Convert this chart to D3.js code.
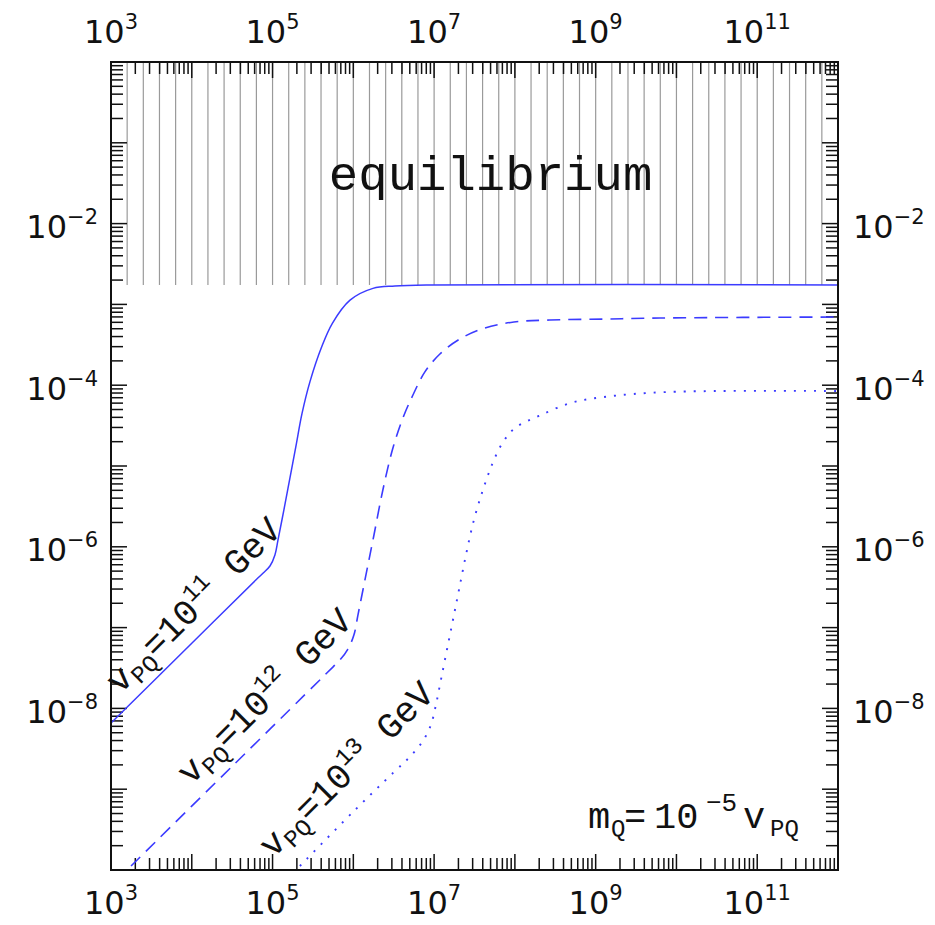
<!DOCTYPE html>
<html>
<head>
<meta charset="utf-8">
<script src="https://cdn.jsdelivr.net/npm/d3@7"></script>
<style>
  html, body { margin: 0; padding: 0; background: #fff; }
  svg { display: block; }
</style>
</head>
<body>
<svg id="chart" width="935" height="925"></svg>
<script>
// ---------------- data ----------------
// solid: v_PQ = 1e11 GeV
const solidX = [1e3, 1e4, 6.3e4, 7.6e4, 9.29e4, 1.07e5, 1.167e5, 1.38e5, 1.64e5, 1.95e5, 2.31e5, 2.9e5, 4.06e5, 5.5e5, 9.1e5, 1.75e6, 3.27e6, 8.87e6, 1e12];
const solidY = [6.59e-9, 6.4e-8, 3.94e-7, 4.71e-7, 5.78e-7, 7.93e-7, 1.21e-6, 2.85e-6, 7.1e-6, 1.77e-5, 4.41e-5, 1.1e-4, 2.99e-4, 5.84e-4, 1.13e-3, 1.58e-3, 1.69e-3, 1.74e-3, 1.74e-3];
// dashed: v_PQ = 1e12 GeV
const dashedX = [1.77e3, 3.16e4, 5.62e5, 6.82e5, 8.57e5, 1.016e6, 1.14e6, 1.315e6, 1.517e6, 1.8e6, 2.32e6, 3.09e6, 4.11e6, 5.47e6, 7.69e6, 1.18e7, 2.08e7, 4.26e7, 9.72e7, 2.71e8, 1.3e9, 6.24e9, 1e12];
const dashedY = [1.12e-10, 1.92e-9, 3.27e-8, 3.97e-8, 5.43e-8, 8.09e-8, 1.43e-7, 2.92e-7, 5.96e-7, 1.4e-6, 5.05e-6, 1.67e-5, 3.93e-5, 7.57e-5, 1.46e-4, 2.43e-4, 3.73e-4, 5.11e-4, 6.05e-4, 6.41e-4, 6.59e-4, 6.79e-4, 6.98e-4];
// dotted: v_PQ = 1e13 GeV
const dottedX = [2.18e5, 1e6, 3.16e6, 5.0e6, 7.26e6, 9.12e6, 1.052e7, 1.213e7, 1.439e7, 1.71e7, 2.03e7, 2.48e7, 3.11e7, 4.02e7, 5.19e7, 6.9e7, 1e8, 1.98e8, 4.93e8, 1.26e9, 7.83e9, 1e12];
const dottedY = [1.12e-10, 5.28e-10, 1.62e-9, 2.51e-9, 3.95e-9, 6.24e-9, 1.1e-8, 2.24e-8, 5.28e-8, 1.24e-7, 2.92e-7, 7.93e-7, 2.15e-6, 5.05e-6, 1.03e-5, 1.87e-5, 2.95e-5, 4.16e-5, 6.03e-5, 7.14e-5, 8.24e-5, 8.47e-5];

const equilibriumLevel = 1.74e-3;   // lower edge of hatched "equilibrium" region
const hatchStepDecades = 0.2;       // spacing of hatch lines (in decades of x)

const xDomain = [1e3, 1e12];
const yDomain = [1e-10, 1];
const xLabelTicks = [1e3, 1e5, 1e7, 1e9, 1e11];
const xLabelExps  = ["3", "5", "7", "9", "11"];
const yLabelTicks = [1e-2, 1e-4, 1e-6, 1e-8];
const yLabelExps  = ["\u22122", "\u22124", "\u22126", "\u22128"];

const curveLabels = [
  { exp: "11", style: "solid" },
  { exp: "12", style: "dashed" },
  { exp: "13", style: "dotted" }
];

// ---------------- layout ----------------
const L = 111, R = 838, T = 62, B = 870;
const svg = d3.select("#chart");
const x = d3.scaleLog().domain(xDomain).range([L, R]);
const y = d3.scaleLog().domain(yDomain).range([B, T]);

const blue = "#3b3bff";
const tickFont = "'DejaVu Sans', Verdana, sans-serif";
const monoFont = "'Liberation Mono', 'Courier New', monospace";

svg.append("defs").append("clipPath").attr("id", "plotclip")
  .append("rect").attr("x", L).attr("y", T).attr("width", R - L).attr("height", B - T);

// hatch lines
const hatchVals = [];
const lx0 = Math.log10(xDomain[0]), lx1 = Math.log10(xDomain[1]);
for (let k = 1; lx0 + k * hatchStepDecades < lx1 - 1e-9; k++) hatchVals.push(Math.pow(10, lx0 + k * hatchStepDecades));
svg.append("g").selectAll("line").data(hatchVals).join("line")
  .attr("x1", d => x(d)).attr("x2", d => x(d))
  .attr("y1", y(yDomain[1])).attr("y2", y(equilibriumLevel))
  .attr("stroke", "#9a9a9a").attr("stroke-width", 1.2);

// ticks generation (1..9 per decade)
function logTicks(domain) {
  const out = [];
  const a = Math.round(Math.log10(domain[0])), b = Math.round(Math.log10(domain[1]));
  for (let e = a; e <= b; e++) {
    for (let m = 1; m <= 9; m++) {
      const v = m * Math.pow(10, e);
      if (v >= domain[0] * 0.999 && v <= domain[1] * 1.001) out.push({ v, major: m === 1 });
    }
  }
  return out;
}
const xt = logTicks(xDomain), yt = logTicks(yDomain);
const MAJ = 16, MIN = 12;
const tg = svg.append("g").attr("stroke", "#111").attr("stroke-width", 1.5);
tg.selectAll(".tb").data(xt).join("line").attr("class", "tb")
  .attr("x1", d => x(d.v)).attr("x2", d => x(d.v))
  .attr("y1", B).attr("y2", d => B - (d.major ? MAJ : MIN));
tg.selectAll(".tt").data(xt).join("line").attr("class", "tt")
  .attr("x1", d => x(d.v)).attr("x2", d => x(d.v))
  .attr("y1", T).attr("y2", d => T + (d.major ? MAJ : MIN));
tg.selectAll(".tl").data(yt).join("line").attr("class", "tl")
  .attr("y1", d => y(d.v)).attr("y2", d => y(d.v))
  .attr("x1", L).attr("x2", d => L + (d.major ? MAJ : MIN));
tg.selectAll(".tr").data(yt).join("line").attr("class", "tr")
  .attr("y1", d => y(d.v)).attr("y2", d => y(d.v))
  .attr("x1", R).attr("x2", d => R - (d.major ? MAJ : MIN));

// curves
const line = d3.line().x(d => x(d[0])).y(d => y(d[1])).curve(d3.curveCatmullRom.alpha(0.5));
const cg = svg.append("g").attr("clip-path", "url(#plotclip)").attr("fill", "none").attr("stroke", blue);
cg.append("path").datum(d3.zip(solidX, solidY)).attr("d", line).attr("stroke-width", 1.5);
cg.append("path").datum(d3.zip(dashedX, dashedY)).attr("d", line).attr("stroke-width", 1.6)
  .attr("stroke-dasharray", "13,8");
cg.append("path").datum(d3.zip(dottedX, dottedY)).attr("d", line).attr("stroke-width", 1.9)
  .attr("stroke-dasharray", "2,8");

// frame
svg.append("rect").attr("x", L).attr("y", T).attr("width", R - L).attr("height", B - T)
  .attr("fill", "none").attr("stroke", "#111").attr("stroke-width", 2);

// tick labels
function supLabel(sel, base, exp, supSize, rise) {
  sel.text(base);
  sel.append("tspan").attr("dy", -rise).attr("font-size", supSize).text(exp);
}
xLabelTicks.forEach((v, i) => {
  const tt = svg.append("text").attr("x", x(v)).attr("y", 43).attr("text-anchor", "middle")
    .attr("font-family", tickFont).attr("font-size", 32).attr("fill", "#111");
  supLabel(tt, "10", xLabelExps[i], 21, 14);
  const tb = svg.append("text").attr("x", x(v)).attr("y", 914).attr("text-anchor", "middle")
    .attr("font-family", tickFont).attr("font-size", 32).attr("fill", "#111");
  supLabel(tb, "10", xLabelExps[i], 21, 14);
});
yLabelTicks.forEach((v, i) => {
  const tl = svg.append("text").attr("x", 98).attr("y", y(v) + 14.5).attr("text-anchor", "end")
    .attr("font-family", tickFont).attr("font-size", 32).attr("fill", "#111");
  supLabel(tl, "10", yLabelExps[i], 21, 14);
  const tr = svg.append("text").attr("x", 853).attr("y", y(v) + 14.5).attr("text-anchor", "start")
    .attr("font-family", tickFont).attr("font-size", 32).attr("fill", "#111");
  supLabel(tr, "10", yLabelExps[i], 21, 14);
});

// equilibrium label
svg.append("text").attr("x", x(5e7)).attr("y", y(2.6e-2))
  .attr("text-anchor", "middle").attr("font-family", monoFont).attr("font-size", 49)
  .attr("fill", "#111").text("equilibrium");

// curve labels (rotated)
const labelAnchors = [[120, 695], [191, 786], [273, 859]];
curveLabels.forEach((c, i) => {
  const g = svg.append("g").attr("transform", `translate(${labelAnchors[i][0]},${labelAnchors[i][1]}) rotate(-45)`);
  const t = g.append("text").attr("font-family", monoFont).attr("font-size", 36).attr("fill", "#111");
  t.append("tspan").text("v");
  t.append("tspan").attr("font-size", 24).attr("dy", 7).text("PQ");
  t.append("tspan").attr("dy", -7).text("=10");
  t.append("tspan").attr("font-size", 24).attr("dy", -15).text(c.exp);
  t.append("tspan").attr("dy", 15).text(" GeV");
});

// m_Q label
const mq = svg.append("text").attr("font-family", monoFont).attr("font-size", 37).attr("fill", "#111");
mq.append("tspan").attr("x", 588).attr("y", 828).text("m");
mq.append("tspan").attr("x", 611).attr("y", 836).attr("font-size", 24).text("Q");
mq.append("tspan").attr("x", 624).attr("y", 828).text("=");
mq.append("tspan").attr("x", 654).attr("y", 828).text("10");
mq.append("tspan").attr("x", 706).attr("y", 811).attr("font-size", 26).text("\u22125");
mq.append("tspan").attr("x", 743).attr("y", 828).text("v");
mq.append("tspan").attr("x", 770).attr("y", 836).attr("font-size", 24).text("PQ");
</script>
</body>
</html>
